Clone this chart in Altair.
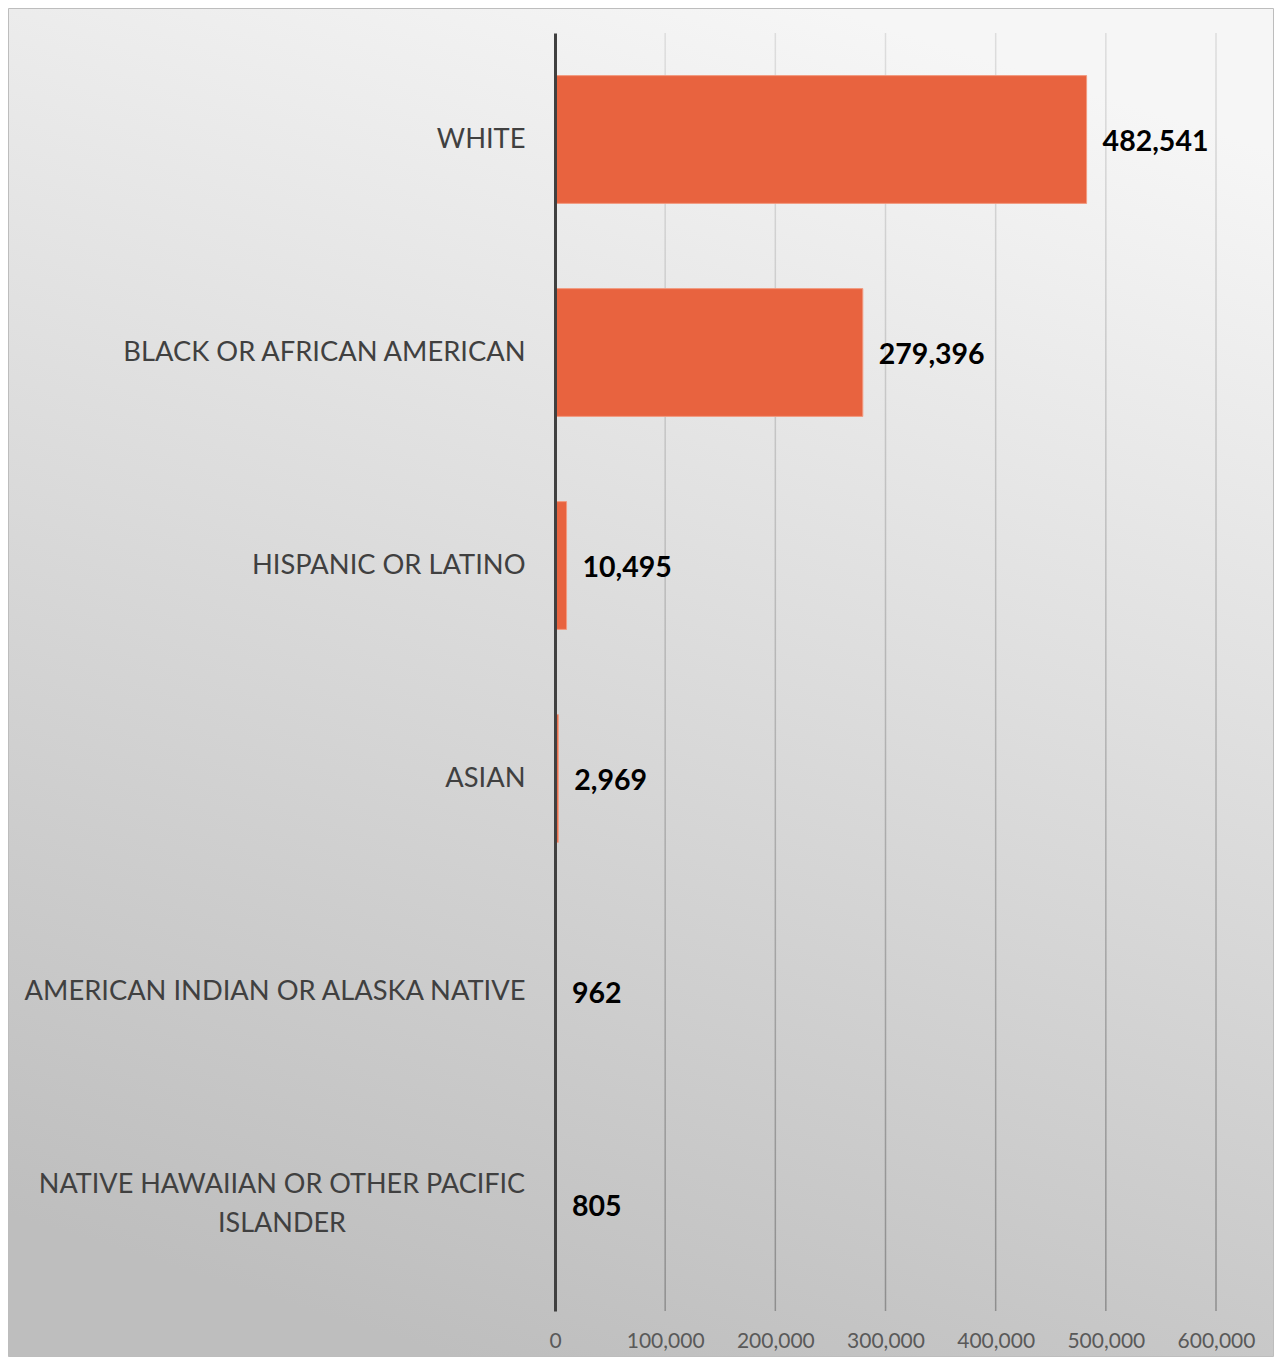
import altair as alt
import pandas as pd

categories = [
    "WHITE",
    "BLACK OR AFRICAN AMERICAN",
    "HISPANIC OR LATINO",
    "ASIAN",
    "AMERICAN INDIAN OR ALASKA NATIVE",
    "NATIVE HAWAIIAN OR OTHER PACIFIC ISLANDER",
]
values = [482541, 279396, 10495, 2969, 962, 805]
grid_values = [100000, 200000, 300000, 400000, 500000, 600000]
x_ticks = [0, 100000, 200000, 300000, 400000, 500000, 600000]
wrapped_category = "NATIVE HAWAIIAN OR OTHER PACIFIC ISLANDER"
wrapped_lines = ["NATIVE HAWAIIAN OR OTHER PACIFIC", "ISLANDER"]

W, H = 661, 1278
PAD = {"left": 547, "top": 25, "right": 58, "bottom": 46}

df = pd.DataFrame({"category": categories, "value": values})
df["label"] = df["value"].map(lambda v: f"{v:,}")
grid_df = pd.DataFrame({"g": grid_values})
bg_df = pd.DataFrame({"a": [0]})
wrap_df = pd.DataFrame({"category": [wrapped_category], "text": [wrapped_lines]})

FONT = "Lato"
YFS = 27.3

xscale = alt.Scale(domain=[0, 600000], nice=False, zero=True)
yscale = alt.Scale(paddingInner=0.4, paddingOuter=0.2)

bg = alt.Chart(bg_df).mark_rect(
    color=alt.LinearGradient(
        gradient="linear",
        x1=0.65, y1=0, x2=0.35, y2=1,
        stops=[alt.GradientStop(color="#f6f6f6", offset=0),
               alt.GradientStop(color="#bebebe", offset=1)],
    ),
    stroke="#bdbdbd",
    strokeWidth=1,
).encode(
    x=alt.value(-PAD["left"] + 0.5),
    x2=alt.value(W + PAD["right"] - 0.5),
    y=alt.value(-PAD["top"] + 0.5),
    y2=alt.value(H + PAD["bottom"] - 0.5),
)

x_axis = alt.Axis(
    values=x_ticks,
    labelExpr="format(datum.value, ',')",
    grid=False,
    domain=False,
    ticks=False,
    labelFlush=False,
    labelFont=FONT,
    labelFontSize=21,
    labelColor="#595959",
    labelPadding=19,
    title=None,
    zindex=2,
)

grid = alt.Chart(grid_df).mark_tick(
    orient="vertical",
    thickness=1.5,
    size=H,
    opacity=1,
    color=alt.LinearGradient(
        gradient="linear",
        x1=0, y1=0, x2=0, y2=1,
        stops=[alt.GradientStop(color="#dddddd", offset=0),
               alt.GradientStop(color="#8e8e8e", offset=1)],
    ),
).encode(
    x=alt.X("g:Q", scale=xscale, axis=x_axis),
)

y_axis = alt.Axis(
    title=None,
    ticks=False,
    domain=True,
    domainColor="#404040",
    domainWidth=3,
    labelFont=FONT,
    labelFontSize=YFS,
    labelColor="#404040",
    labelPadding=30,
    labelLimit=1000,
    labelExpr=f"datum.value == '{wrapped_category}' ? '' : datum.value",
    zindex=2,
)

base = alt.Chart(df).encode(
    y=alt.Y("category:N", sort=categories, axis=y_axis, scale=yscale),
)

bars = base.mark_bar(color="#E8633F", stroke="#F29B80", strokeWidth=1).encode(
    x=alt.X("value:Q", axis=x_axis, scale=xscale),
)

labels = base.mark_text(
    align="left", baseline="middle", dx=16, dy=2,
    font=FONT, fontSize=28.5, fontWeight="bold", color="#000000",
).encode(
    x=alt.X("value:Q"),
    text="label:N",
)

wrap_label = alt.Chart(wrap_df).mark_text(
    align="center", baseline="middle", lineHeight=39, dy=-20,
    font=FONT, fontSize=27, color="#404040",
).encode(
    y=alt.Y("category:N", sort=categories, scale=yscale, axis=y_axis),
    x=alt.value(-273),
    text="text",
)

chart = alt.layer(bg, grid, bars, labels, wrap_label).properties(
    width=W, height=H,
    autosize=alt.AutoSizeParams(type="none"),
    padding=PAD,
).configure_view(stroke=None).configure(background="white")

chart.save("out.html", embed_options={"renderer": "svg", "actions": False})
